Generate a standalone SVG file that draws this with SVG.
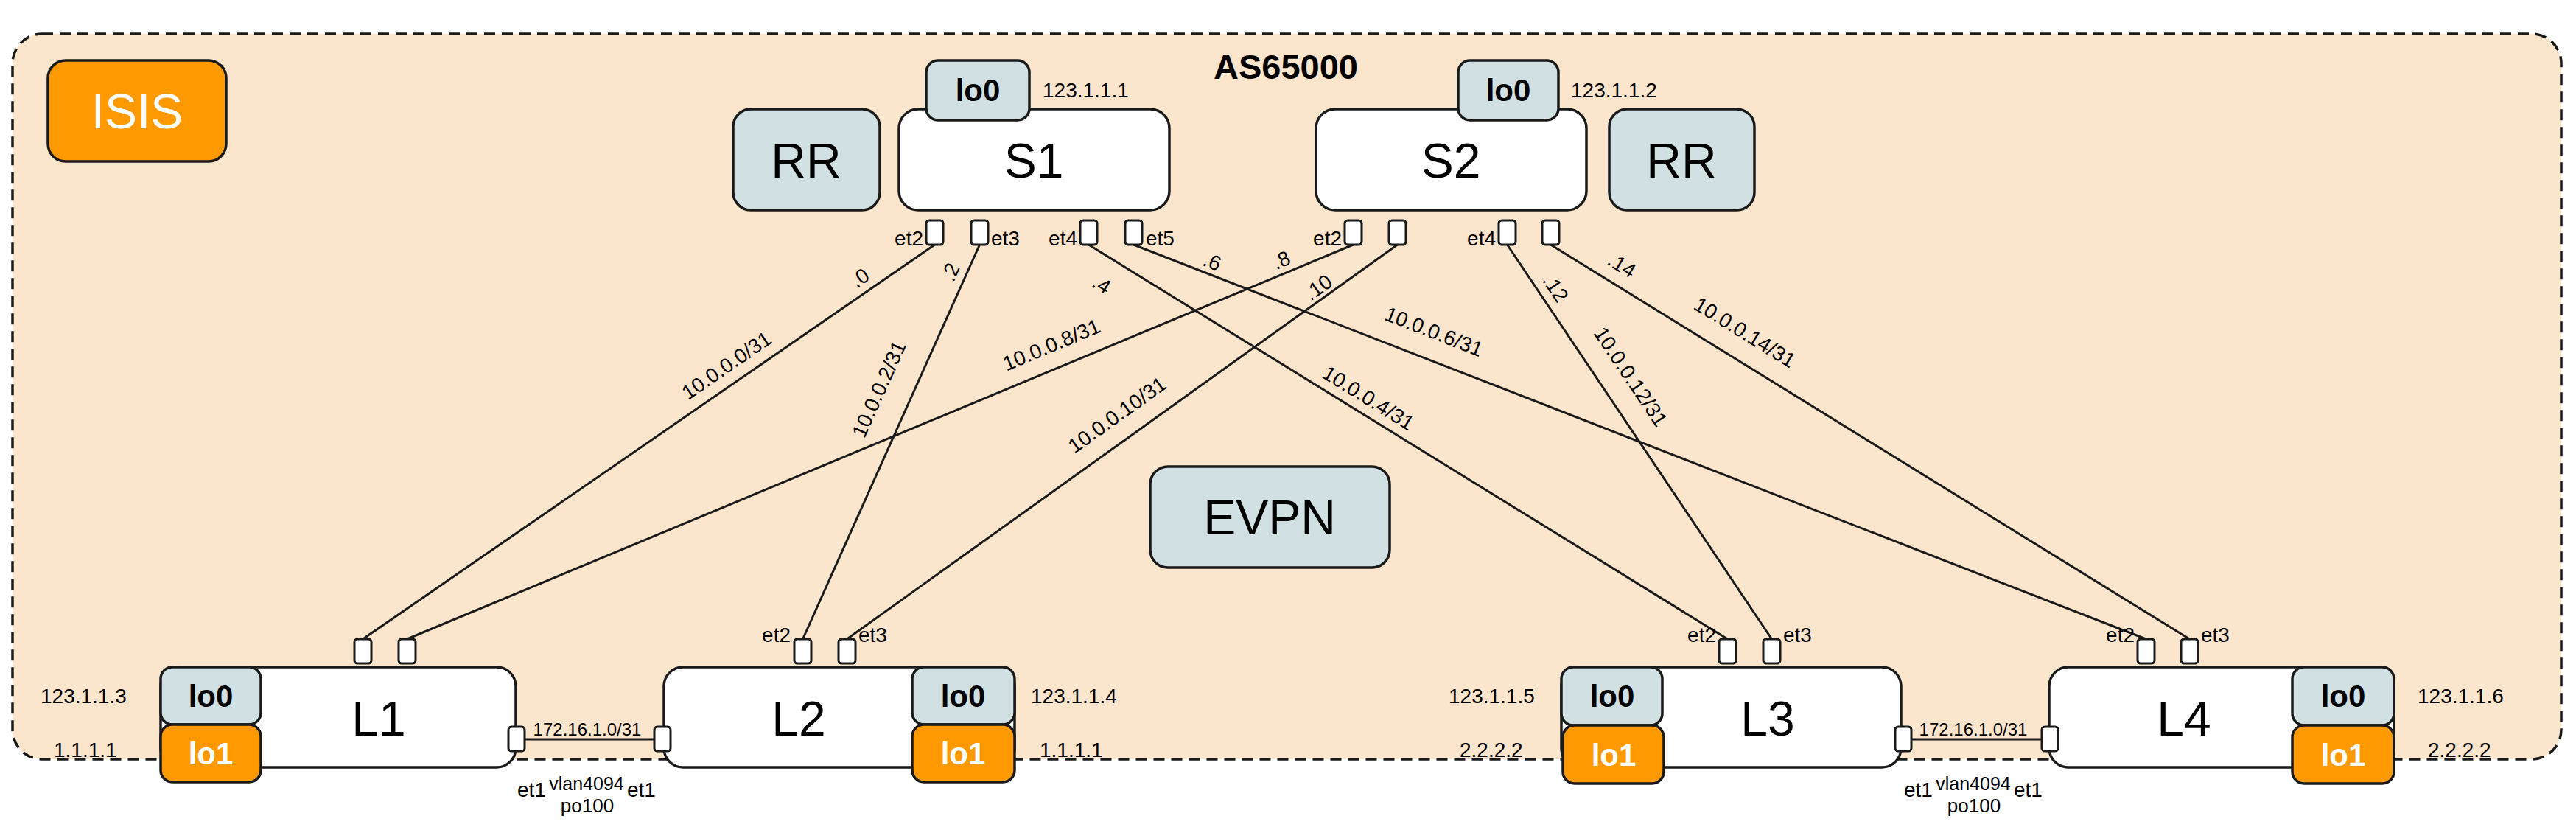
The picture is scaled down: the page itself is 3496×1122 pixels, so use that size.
<svg xmlns="http://www.w3.org/2000/svg" width="3496" height="1122" viewBox="0 0 3496 1122">
<style>
text{font-family:"Liberation Sans",Arial,Helvetica,sans-serif;fill:#000}
.box{fill:#fff;stroke:#1a1a1a;stroke-width:3.5}
.blue{fill:#d0e0e3;stroke:#1a1a1a;stroke-width:3.5}
.orange{fill:#ff9900;stroke:#1a1a1a;stroke-width:3.5}
.port{fill:#fff;stroke:#1a1a1a;stroke-width:3}
.link{stroke:#1a1a1a;stroke-width:3;fill:none}
.big{font-size:66px;text-anchor:middle}
.lo{font-size:42px;font-weight:bold;text-anchor:middle}
.wt{fill:#fff}
.sm{font-size:28px}
.lbl{font-size:28px;text-anchor:middle;dominant-baseline:central}
.mid{text-anchor:middle}
.end{text-anchor:end}
</style>
<g id="as65000">
<rect x="17" y="46" width="3459" height="984" rx="40" fill="#fce5cd" stroke="#1a1a1a" stroke-width="3.5" stroke-dasharray="15 9"/>
<text x="1745" y="107" font-size="47" font-weight="bold" text-anchor="middle">AS65000</text>
</g>
<g id="isis"><rect class="orange" x="65" y="82" width="242" height="137" rx="24"/><text class="big wt" x="186" y="174">ISIS</text></g>
<g id="rr1"><rect class="blue" x="995" y="148" width="199" height="137" rx="24"/><text class="big" x="1094" y="241">RR</text></g>
<g id="rr2"><rect class="blue" x="2184" y="148" width="197" height="137" rx="24"/><text class="big" x="2282" y="241">RR</text></g>
<g id="evpn"><rect class="blue" x="1561" y="633" width="325" height="137" rx="24"/><text class="big" x="1723" y="725">EVPN</text></g>

<g id="connectors">
<line class="link" x1="1268.5" y1="332" x2="492.5" y2="867"/>
<line class="link" x1="1329.5" y1="332" x2="1089.5" y2="867"/>
<line class="link" x1="1477.5" y1="332" x2="2344.5" y2="867"/>
<line class="link" x1="1538.5" y1="332" x2="2912.5" y2="867"/>
<line class="link" x1="1836.5" y1="332" x2="552.5" y2="867"/>
<line class="link" x1="1896.5" y1="332" x2="1149.5" y2="867"/>
<line class="link" x1="2045.5" y1="332" x2="2404.5" y2="867"/>
<line class="link" x1="2104.5" y1="332" x2="2971.5" y2="867"/>
<line class="link" x1="712" y1="1003" x2="888" y2="1003"/>
<line class="link" x1="2594" y1="1003" x2="2771" y2="1003"/>
<text class="lbl" transform="translate(1167 377) rotate(-34.6)">.0</text>
<text class="lbl" transform="translate(986 496) rotate(-34.6)">10.0.0.0/31</text>
<text class="lbl" transform="translate(1290 369) rotate(-65.8)">.2</text>
<text class="lbl" transform="translate(1193 528) rotate(-65.8)">10.0.0.2/31</text>
<text class="lbl" transform="translate(1495 386) rotate(31.7)">.4</text>
<text class="lbl" transform="translate(1857 540) rotate(31.7)">10.0.0.4/31</text>
<text class="lbl" transform="translate(1645 355) rotate(21.3)">.6</text>
<text class="lbl" transform="translate(1946 450) rotate(21.3)">10.0.0.6/31</text>
<text class="lbl" transform="translate(1739 353) rotate(-22.6)">.8</text>
<text class="lbl" transform="translate(1427 468) rotate(-22.6)">10.0.0.8/31</text>
<text class="lbl" transform="translate(1789 390) rotate(-35.6)">.10</text>
<text class="lbl" transform="translate(1516 563) rotate(-35.6)">10.0.0.10/31</text>
<text class="lbl" transform="translate(2111 391) rotate(56.1)">.12</text>
<text class="lbl" transform="translate(2213 511) rotate(56.1)">10.0.0.12/31</text>
<text class="lbl" transform="translate(2201 360) rotate(31.7)">.14</text>
<text class="lbl" transform="translate(2368 451) rotate(31.7)">10.0.0.14/31</text>
<text class="mid" x="797" y="998" font-size="24">172.16.1.0/31</text>
<text class="mid" x="2678" y="998" font-size="24">172.16.1.0/31</text>
<text class="sm" x="702" y="1081">et1</text>
<text class="mid" x="796" y="1072" font-size="25">vlan4094</text>
<text class="sm" x="851" y="1081">et1</text>
<text class="mid" x="797" y="1102" font-size="26">po100</text>
<text class="sm" x="2584" y="1081">et1</text>
<text class="mid" x="2678" y="1072" font-size="25">vlan4094</text>
<text class="sm" x="2733" y="1081">et1</text>
<text class="mid" x="2679" y="1102" font-size="26">po100</text>
</g>

<g id="S1">
<rect class="box" x="1220" y="148" width="367" height="137" rx="26"/>
<text class="big" x="1403" y="241">S1</text>
<rect class="blue" x="1257" y="82" width="140" height="81" rx="16"/>
<text class="lo" x="1327" y="137">lo0</text>
<text class="sm" x="1415" y="132">123.1.1.1</text>
<rect class="port" x="1257" y="299" width="23" height="33" rx="4"/>
<rect class="port" x="1318" y="299" width="23" height="33" rx="4"/>
<rect class="port" x="1466" y="299" width="23" height="33" rx="4"/>
<rect class="port" x="1527" y="299" width="23" height="33" rx="4"/>
<text class="sm end" x="1253" y="333">et2</text>
<text class="sm" x="1345" y="333">et3</text>
<text class="sm end" x="1462" y="333">et4</text>
<text class="sm" x="1555" y="333">et5</text>
</g>
<g id="S2">
<rect class="box" x="1786" y="148" width="367" height="137" rx="26"/>
<text class="big" x="1969" y="241">S2</text>
<rect class="blue" x="1979" y="82" width="136" height="81" rx="16"/>
<text class="lo" x="2047" y="137">lo0</text>
<text class="sm" x="2132" y="132">123.1.1.2</text>
<rect class="port" x="1825" y="299" width="23" height="33" rx="4"/>
<rect class="port" x="1885" y="299" width="23" height="33" rx="4"/>
<rect class="port" x="2034" y="299" width="23" height="33" rx="4"/>
<rect class="port" x="2093" y="299" width="23" height="33" rx="4"/>
<text class="sm end" x="1821" y="333">et2</text>
<text class="sm end" x="2030" y="333">et4</text>
</g>

<g id="L1">
<rect class="box" x="218" y="905" width="482" height="136" rx="26"/>
<text class="big" x="514" y="998">L1</text>
<rect class="blue" x="218" y="905" width="136" height="78" rx="16"/>
<text class="lo" x="286" y="959">lo0</text>
<rect class="orange" x="218" y="983" width="136" height="78" rx="16"/>
<text class="lo wt" x="286" y="1037">lo1</text>
<text class="sm" x="55" y="954">123.1.1.3</text>
<text class="sm" x="73" y="1027">1.1.1.1</text>
<rect class="port" x="481" y="867" width="23" height="33" rx="4"/>
<rect class="port" x="541" y="867" width="23" height="33" rx="4"/>
<rect class="port" x="690" y="986" width="22" height="33" rx="4"/>
</g>
<g id="L2">
<rect class="box" x="901" y="905" width="476" height="136" rx="26"/>
<text class="big" x="1084" y="998">L2</text>
<rect class="blue" x="1238" y="905" width="139" height="78" rx="16"/>
<text class="lo" x="1307" y="959">lo0</text>
<rect class="orange" x="1238" y="983" width="139" height="78" rx="16"/>
<text class="lo wt" x="1307" y="1037">lo1</text>
<text class="sm" x="1399" y="954">123.1.1.4</text>
<text class="sm" x="1411" y="1027">1.1.1.1</text>
<rect class="port" x="1078" y="867" width="23" height="33" rx="4"/>
<rect class="port" x="1138" y="867" width="23" height="33" rx="4"/>
<rect class="port" x="888" y="986" width="22" height="33" rx="4"/>
<text class="sm end" x="1073" y="871">et2</text>
<text class="sm" x="1165" y="871">et3</text>
</g>
<g id="L3">
<rect class="box" x="2119" y="905" width="461" height="136" rx="26"/>
<text class="big" x="2399" y="998">L3</text>
<rect class="blue" x="2119" y="905" width="137" height="79" rx="16"/>
<text class="lo" x="2188" y="959">lo0</text>
<rect class="orange" x="2121" y="984" width="137" height="79" rx="16"/>
<text class="lo wt" x="2190" y="1039">lo1</text>
<text class="sm" x="1966" y="954">123.1.1.5</text>
<text class="sm" x="1981" y="1027">2.2.2.2</text>
<rect class="port" x="2333" y="867" width="23" height="33" rx="4"/>
<rect class="port" x="2393" y="867" width="23" height="33" rx="4"/>
<rect class="port" x="2572" y="986" width="22" height="33" rx="4"/>
<text class="sm end" x="2329" y="871">et2</text>
<text class="sm" x="2420" y="871">et3</text>
</g>
<g id="L4">
<rect class="box" x="2781" y="905" width="468" height="136" rx="26"/>
<text class="big" x="2964" y="998">L4</text>
<rect class="blue" x="3111" y="905" width="138" height="79" rx="16"/>
<text class="lo" x="3180" y="959">lo0</text>
<rect class="orange" x="3111" y="984" width="138" height="79" rx="16"/>
<text class="lo wt" x="3180" y="1039">lo1</text>
<text class="sm" x="3281" y="954">123.1.1.6</text>
<text class="sm" x="3295" y="1027">2.2.2.2</text>
<rect class="port" x="2901" y="867" width="23" height="33" rx="4"/>
<rect class="port" x="2960" y="867" width="23" height="33" rx="4"/>
<rect class="port" x="2771" y="986" width="22" height="33" rx="4"/>
<text class="sm end" x="2897" y="871">et2</text>
<text class="sm" x="2987" y="871">et3</text>
</g>
</svg>
